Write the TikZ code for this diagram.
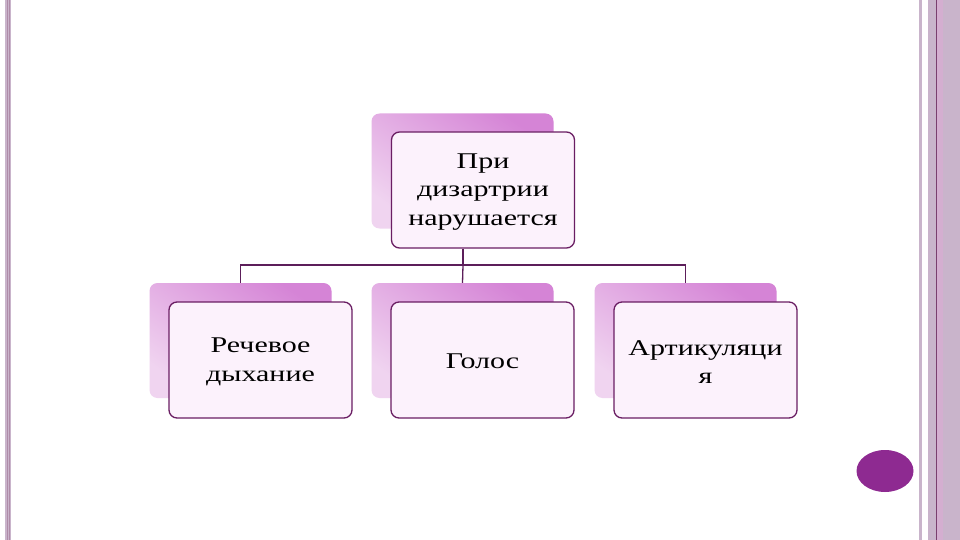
\documentclass[tikz,border=0pt]{standalone}
\usepackage{fontspec}
\setmainfont{Liberation Serif}[FakeStretch=1.333]
\usetikzlibrary{shapes.geometric}
\definecolor{lilac}{HTML}{C9B4CB}
\definecolor{lilacline}{HTML}{7A3E6E}
\definecolor{lilacpink}{HTML}{D4AED0}
\definecolor{boxline}{HTML}{6A1E63}
\definecolor{conn}{HTML}{5C1E5A}
\definecolor{backdark}{HTML}{D584D6}
\definecolor{backlight}{HTML}{F0D4F0}
\definecolor{frontfill}{HTML}{FCF2FC}
\definecolor{dotfill}{HTML}{8E2A91}
\tikzset{
  backbox/.style={rounded corners=8pt, minimum width=182pt, minimum height=115pt,
    top color=backdark, bottom color=backlight, shading angle=-35, draw=none, inner sep=0pt},
  frontbox/.style={rounded corners=8pt, minimum width=183pt, minimum height=116pt,
    draw=boxline, line width=1.3pt, fill=frontfill, inner sep=0pt,
    align=center, font=\fontsize{22.5}{28.5}\selectfont, text=black},
  connector/.style={draw=conn, line width=1.3pt}
}
\begin{document}
\begin{tikzpicture}[x=1pt,y=-1pt]
\useasboundingbox (0,0) rectangle (960,540);
\fill[white] (0,0) rectangle (960,540);
% left strip
\fill[lilac] (5,0) rectangle (11,540);
\draw[lilacline!60, line width=0.4pt] (7,0) -- (7,540);
\draw[lilacline!60, line width=0.4pt] (9.5,0) -- (9.5,540);
% right strips
\fill[lilac] (919,0) rectangle (922,540);
\fill[lilac] (928,0) rectangle (960,540);
\fill[lilacpink] (937,0) rectangle (943,540);
\draw[lilacline, line width=1pt] (936.5,0) -- (936.5,540);
% back boxes
\node[backbox] (btop) at (462.5,171) {};
\node[backbox] (b1) at (240.5,340.5) {};
\node[backbox] (b2) at (462.5,340.5) {};
\node[backbox] (b3) at (685.5,340.5) {};
% connectors
\coordinate (j) at (463,265);
\node[frontbox] (top) at (483,190) {};
\node[align=center, font=\fontsize{22.5}{28.5}\selectfont, inner sep=0pt] (toptext) at (483,192) {При\\дизартрии\\нарушается};
\draw[connector] (j |- top.south) -- (j);
\draw[connector] (j) -| (b1.north);
\draw[connector] (j) -| (b3.north);
\draw[connector] (j) -- (b2.north);
% front boxes
\node[frontbox] (f1) at (260.5,360) {};
\node[align=center, font=\fontsize{22.5}{28.5}\selectfont, inner sep=0pt] (t1) at (260.5,362) {Речевое\\дыхание};
\node[frontbox] (f2) at (482.5,360) {};
\node[align=center, font=\fontsize{22.5}{28.5}\selectfont, inner sep=0pt] (t2) at (482.5,361) {Голос};
\node[frontbox] (f3) at (705.5,360) {};
\node[align=center, font=\fontsize{22.5}{28.5}\selectfont, inner sep=0pt] (t3) at (705.5,362) {Артикуляци\\я};
% dot
\node[ellipse, fill=dotfill, minimum width=57pt, minimum height=42pt, inner sep=0pt] (dot) at (885,471) {};
\end{tikzpicture}
\end{document}
